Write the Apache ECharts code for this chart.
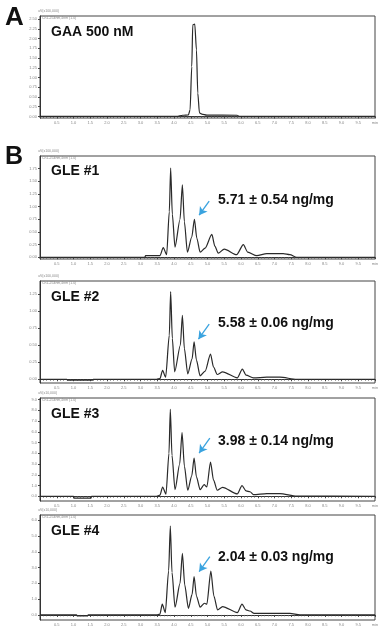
<!DOCTYPE html>
<html>
<head>
<meta charset="utf-8">
<style>
html,body{margin:0;padding:0;background:#fff;}
#chart{width:392px;height:636px;}
</style>
<script src="https://cdn.jsdelivr.net/npm/echarts@6/dist/echarts.min.js"></script>
</head>
<body>
<div id="chart"></div>
<script>
// ---- data (retention time in min, detector signal) ----
const panelNames = ['GAA 500 nM', 'GLE #1', 'GLE #2', 'GLE #3', 'GLE #4'];
const quantLabels = ['', '5.71 \u00b1 0.54 ng/mg', '5.58 \u00b1 0.06 ng/mg', '3.98 \u00b1 0.14 ng/mg', '2.04 \u00b1 0.03 ng/mg'];
const yUnitLabels = ['uV(x100,000)', 'uV(x100,000)', 'uV(x100,000)', 'uV(x10,000)', 'uV(x10,000)'];
const channelLabel = 'Ch1-254nm,4nm (1.0)';
const xTickValues = [0.5,1.0,1.5,2.0,2.5,3.0,3.5,4.0,4.5,5.0,5.5,6.0,6.5,7.0,7.5,8.0,8.5,9.0,9.5,10.0];
const yTicksA  = [0,0.25,0.5,0.75,1.0,1.25,1.5,1.75,2.0,2.25,2.5];
const yTicksB1 = [0,0.25,0.5,0.75,1.0,1.25,1.5,1.75];
const yTicksB2 = [0,0.25,0.5,0.75,1.0,1.25];
const yTicksB3 = [0,1,2,3,4,5,6,7,8,9];
const yTicksB4 = [0,1,2,3,4,5,6];

const gaa = [[0,0],[4.08,0],[4.26,0.03],[4.43,0.04],[4.48,0.17],[4.53,1.28],[4.56,2.35],[4.62,2.37],[4.67,1.71],[4.71,0.6],[4.76,0.09],[4.83,0.06],[4.98,0.035],[5.89,0.03],[5.95,0],[10,0]];
const gle1 = [[0,0],[3.13,0],[3.15,0.03],[3.58,0.03],[3.68,0.19],[3.78,0.05],[3.86,0.9],[3.90,1.76],[3.95,0.85],[4.03,0.2],[4.18,0.75],[4.25,1.43],[4.31,0.7],[4.40,0.1],[4.53,0.4],[4.61,0.75],[4.68,0.38],[4.78,0.1],[4.93,0.18],[5.13,0.45],[5.22,0.22],[5.32,0.08],[5.50,0.16],[5.87,0.05],[6.07,0.25],[6.20,0.1],[6.47,0.03],[6.77,0.07],[7.26,0.07],[7.46,0.05],[7.66,0],[10,0]];
const gle2 = [[0,0],[0.8,0],[0.82,-0.012],[1.57,-0.012],[1.59,0],[3.48,0],[3.58,0.01],[3.66,0.13],[3.75,0.03],[3.86,0.65],[3.90,1.29],[3.95,0.6],[4.02,0.11],[4.19,0.5],[4.25,0.94],[4.31,0.45],[4.41,0.08],[4.54,0.3],[4.60,0.55],[4.67,0.28],[4.78,0.05],[4.93,0.12],[5.09,0.37],[5.18,0.18],[5.29,0.07],[5.45,0.11],[5.89,0.02],[6.04,0.15],[6.15,0.06],[6.37,0.02],[6.77,0.03],[7.16,0.03],[7.66,0],[10,0]];
const gle3 = [[0,0],[1.0,0],[1.02,-0.18],[1.52,-0.18],[1.54,0],[3.48,0],[3.58,0.1],[3.66,0.86],[3.76,0.2],[3.85,4.0],[3.89,8.09],[3.94,3.8],[4.03,0.62],[4.17,3.0],[4.24,5.93],[4.31,2.8],[4.41,0.56],[4.53,1.9],[4.60,3.55],[4.67,1.8],[4.78,0.62],[4.90,1.08],[4.98,0.86],[5.09,3.18],[5.18,1.5],[5.29,0.56],[5.45,0.83],[5.89,0.22],[6.03,0.99],[6.15,0.5],[6.27,0.42],[6.37,0.15],[6.77,0.25],[7.16,0.25],[7.66,0.02],[10,0]];
const gle4 = [[0,0],[1.09,0],[1.11,-0.06],[1.42,-0.06],[1.44,0],[3.48,0],[3.58,0.05],[3.65,0.68],[3.74,0.15],[3.84,2.8],[3.89,5.63],[3.94,2.7],[4.03,0.49],[4.18,2.0],[4.25,3.9],[4.32,1.9],[4.43,0.42],[4.54,1.3],[4.60,2.43],[4.67,1.2],[4.78,0.49],[4.91,0.74],[4.98,0.68],[5.10,2.78],[5.19,1.2],[5.30,0.32],[5.45,0.53],[5.89,0.15],[6.03,0.68],[6.15,0.32],[6.27,0.25],[6.39,0.1],[6.92,0.1],[7.46,0.1],[7.76,0],[10,0]];

// arrows: [start, end] in data coordinates
const arrowB1 = [[5.05,1.11],[4.75,0.83]];
const arrowB2 = [[5.05,0.81],[4.73,0.59]];
const arrowB3 = [[5.07,5.41],[4.75,4.02]];
const arrowB4 = [[5.07,3.69],[4.75,2.74]];

// ---- layout ----
const seriesData = [gaa, gle1, gle2, gle3, gle4];
const yTicks = [yTicksA, yTicksB1, yTicksB2, yTicksB3, yTicksB4];
const arrows = [null, arrowB1, arrowB2, arrowB3, arrowB4];
const yRange = [[-0.04,2.58],[-0.035,2.0],[-0.055,1.445],[-0.44,9.14],[-0.32,6.33]];
const yDigits = [2,2,2,1,1];
const gridTop = [16,156,281,398,515];
const gridH = [102,103,102,103,105];
const nameY = [32.5,171.5,297.5,414,531];
const quantY = [0,200.5,323.5,441,557.5];

const FONT = '"Liberation Sans", Arial, Helvetica, sans-serif';
const grids = [], xAxes = [], yAxes = [], series = [], graphics = [];

for (let i = 0; i < 5; i++) {
  grids.push({left: 40, right: 17, top: gridTop[i], height: gridH[i], show: true, borderColor: '#444', borderWidth: 1, backgroundColor: 'transparent'});
  xAxes.push({
    type: 'value', gridIndex: i, min: 0, max: 10, interval: 0.5,
    axisLine: {show: true, lineStyle: {color: '#333', width: 1}},
    axisTick: {show: true, length: 2, lineStyle: {color: '#444'}},
    minorTick: {show: true, splitNumber: 5, length: 1.3, lineStyle: {color: '#555'}},
    splitLine: {show: false},
    axisLabel: {fontSize: 4, color: '#888', margin: 3, fontFamily: FONT,
      customValues: xTickValues,
      formatter: v => (Math.abs(v - 10) < 1e-6 ? 'min' : v.toFixed(1))}
  });
  const d = yDigits[i];
  yAxes.push({
    type: 'value', gridIndex: i, min: yRange[i][0], max: yRange[i][1],
    axisLine: {show: true, lineStyle: {color: '#333', width: 1}},
    axisTick: {show: true, length: 2, customValues: yTicks[i], lineStyle: {color: '#444'}},
    splitLine: {show: false},
    axisLabel: {fontSize: 4, color: '#888', margin: 3, fontFamily: FONT,
      customValues: yTicks[i], formatter: v => v.toFixed(d)}
  });
  const s = {
    type: 'line', xAxisIndex: i, yAxisIndex: i, data: seriesData[i],
    showSymbol: false, smooth: 0.25, smoothMonotone: 'x', silent: true,
    lineStyle: {color: '#2a2a2a', width: 1.2}
  };
  if (arrows[i]) {
    s.markLine = {
      silent: true, symbol: ['none', 'arrow'], symbolSize: [7, 8],
      label: {show: false},
      lineStyle: {color: '#3aa3df', width: 1.3, type: 'solid'},
      data: [[{coord: arrows[i][0]}, {coord: arrows[i][1]}]]
    };
  }
  series.push(s);
  graphics.push({type: 'text', x: 51, y: nameY[i], style: {text: panelNames[i], font: 'bold 14px ' + FONT, fill: '#111', verticalAlign: 'middle'}});
  if (quantLabels[i]) {
    graphics.push({type: 'text', x: 218, y: quantY[i], style: {text: quantLabels[i], font: 'bold 14px ' + FONT, fill: '#111', verticalAlign: 'middle'}});
  }
  graphics.push({type: 'text', x: 38, y: gridTop[i] - 4.5, style: {text: yUnitLabels[i], font: '3.5px ' + FONT, fill: '#888', verticalAlign: 'middle'}});
  graphics.push({type: 'text', x: 42, y: gridTop[i] + 2.5, style: {text: channelLabel, font: '3.5px ' + FONT, fill: '#888', verticalAlign: 'middle'}});
}
graphics.push({type: 'text', x: 5, y: 18, style: {text: 'A', font: 'bold 26px ' + FONT, fill: '#111', verticalAlign: 'middle'}});
graphics.push({type: 'text', x: 5, y: 157.5, style: {text: 'B', font: 'bold 25px ' + FONT, fill: '#111', verticalAlign: 'middle'}});

const chart = echarts.init(document.getElementById('chart'), null, {renderer: 'canvas'});
chart.setOption({
  animation: false,
  backgroundColor: '#fff',
  grid: grids, xAxis: xAxes, yAxis: yAxes, series: series, graphic: graphics
});
</script>
</body>
</html>
